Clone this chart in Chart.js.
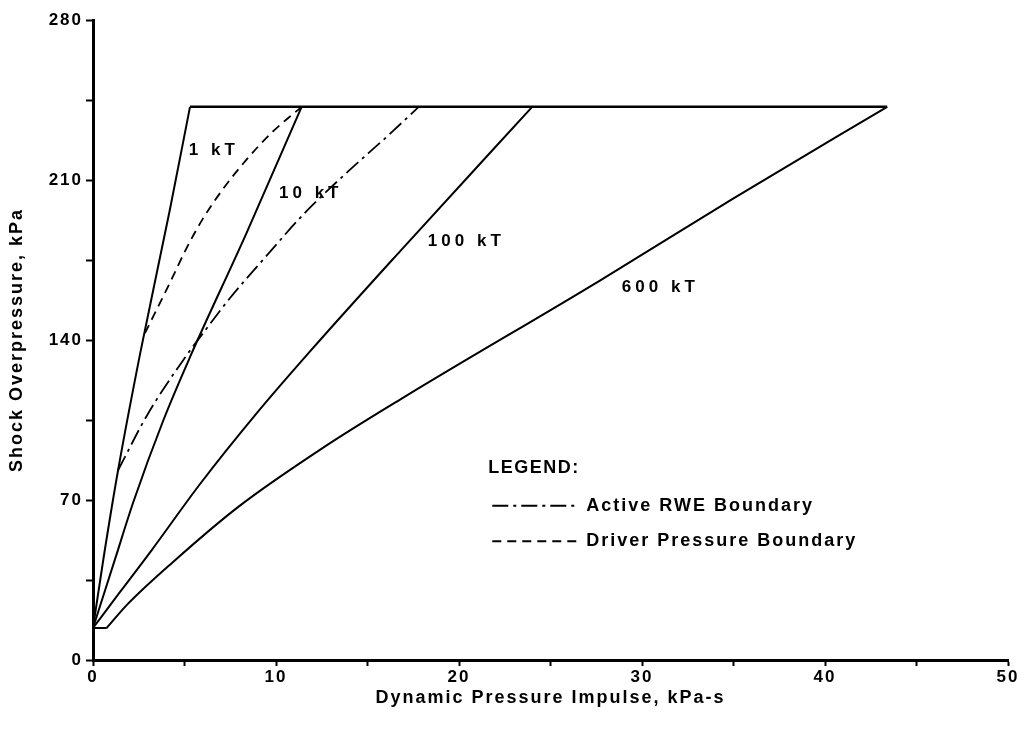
<!DOCTYPE html>
<html>
<head>
<meta charset="utf-8">
<script src="https://cdn.jsdelivr.net/npm/chart.js@4.4.1/dist/chart.umd.min.js"></script>
<style>
    html, body { margin: 0; padding: 0; background: #fff; }
    #wrap { width: 1027px; height: 735px; }
</style>
</head>
<body>
<div id="wrap"><canvas id="cShock"></canvas></div>
<script>
// curve data (x = impulse kPa-s, y = overpressure kPa)
const kt1X = [0, 0.56, 1.37, 2.6, 4.2, 5.3];
const kt1Y = [14, 43.75, 83, 135, 197, 242];

const kt10X = [0, 1.2, 2.2, 3.85, 5.3, 8.4, 11.4];
const kt10Y = [14, 44, 69, 105, 132.5, 187, 242];

const kt100X = [0, 1.5, 3.2, 5.85, 8.95, 11.86, 16.8, 24.0];
const kt100Y = [14, 30, 48, 77, 108, 135, 179, 242];

// 600 kT: short flat foot, then the curve
const floor600X = [0, 0.75];
const floor600Y = [14, 14];
const kt600X = [0.75, 1.84, 4.39, 7.94, 12.6, 17.0, 27.7, 35.0, 43.4];
const kt600Y = [14, 24, 43, 67, 93, 115, 166, 202, 242];

// upper limit line
const capX = [5.3, 43.4];
const capY = [242, 242];

const rweX = [1.37, 2.95, 5.0, 6.3, 7.5, 9.5, 11.5, 13.7, 16.2, 17.8];
const rweY = [83, 107, 132, 146, 158.5, 177, 195, 212, 230, 242];

const driverX = [2.84, 4.2, 5.1, 6.0, 7.1, 8.4, 9.8, 11.4];
const driverY = [143, 165, 180, 193, 206, 219, 231, 242];

// in-plot labels
const yieldLabels = ["1 kT", "10 kT", "100 kT", "600 kT"];
const yieldLabelX = [6.6, 11.9, 20.4, 31.0];
const yieldLabelY = [223, 204, 183, 163];

const legendLabels = ["Active RWE Boundary", "Driver Pressure Boundary"];

const FONT = '"Liberation Sans", Arial, Helvetica, sans-serif';

const pts = (xs, ys) => xs.map((v, i) => ({ x: v, y: ys[i] }));

function lineSet(label, xs, ys, extra) {
    return Object.assign({
        label,
        data: pts(xs, ys),
        borderColor: "#000",
        borderWidth: 2,
        pointRadius: 0,
        fill: false,
        cubicInterpolationMode: "monotone"
    }, extra || {});
}

const straight = { cubicInterpolationMode: "default", tension: 0 };

/* wide typewriter-like spacing for every text on the canvas */
const spacing = {
    id: "spacing",
    beforeDraw(chart) {
        chart.ctx.letterSpacing = "2px";
    }
};

/* labels + legend drawn on top */
const annotate = {
    id: "annotate",
    afterDatasetsDraw(chart) {
        const { ctx, scales: { x, y } } = chart;
        ctx.save();
        ctx.fillStyle = "#000";
        ctx.strokeStyle = "#000";
        ctx.textBaseline = "middle";

        ctx.font = "bold 17px " + FONT;
        ctx.letterSpacing = "4px";
        ctx.textAlign = "center";
        yieldLabels.forEach((t, i) => {
            ctx.fillText(t, x.getPixelForValue(yieldLabelX[i]), y.getPixelForValue(yieldLabelY[i]));
        });

        // legend box
        ctx.textAlign = "left";
        ctx.letterSpacing = "1.5px";
        ctx.font = "bold 18px " + FONT;
        const lx = x.getPixelForValue(21.6);
        ctx.fillText("LEGEND:", lx, y.getPixelForValue(84));

        const rowY = [67.5, 52];
        const dashes = [[16, 5, 3, 5], [9, 6]];
        ctx.letterSpacing = "2px";
        legendLabels.forEach((t, i) => {
            const py = y.getPixelForValue(rowY[i]);
            ctx.beginPath();
            ctx.lineWidth = 2;
            ctx.setLineDash(dashes[i]);
            ctx.moveTo(lx + 4, py);
            ctx.lineTo(lx + 88, py);
            ctx.stroke();
            ctx.setLineDash([]);
            ctx.fillText(t, lx + 98, py);
        });
        ctx.restore();
    }
};

new Chart(document.getElementById("cShock"), {
    type: "line",
    data: {
        datasets: [
            lineSet("1 kT", kt1X, kt1Y),
            lineSet("10 kT", kt10X, kt10Y),
            lineSet("100 kT", kt100X, kt100Y),
            lineSet("600 kT foot", floor600X, floor600Y, straight),
            lineSet("600 kT", kt600X, kt600Y),
            lineSet("cap", capX, capY, Object.assign({ borderWidth: 2.5 }, straight)),
            lineSet("Active RWE Boundary", rweX, rweY, { borderDash: [16, 5, 3, 5], borderWidth: 1.8 }),
            lineSet("Driver Pressure Boundary", driverX, driverY, { borderDash: [9, 6], borderWidth: 1.8 })
        ]
    },
    options: {
        responsive: true,
        maintainAspectRatio: false,
        animation: false,
        layout: { padding: { top: 20, right: 19, bottom: 0, left: 0 } },
        plugins: {
            legend: { display: false },
            tooltip: { enabled: false }
        },
        scales: {
            x: {
                type: "linear",
                min: 0,
                max: 50,
                afterFit: s => { s.height = 75; },
                border: { display: true, color: "#000", width: 3 },
                grid: {
                    drawOnChartArea: false,
                    drawTicks: true,
                    tickLength: 6,
                    tickWidth: 2,
                    tickColor: "#000"
                },
                ticks: {
                    stepSize: 5,
                    autoSkip: false,
                    maxRotation: 0,
                    color: "#000",
                    padding: 1,
                    font: { family: FONT, size: 17, weight: "bold" },
                    callback: v => (v % 10 === 0 ? v : "")
                },
                title: {
                    display: true,
                    text: "Dynamic Pressure Impulse, kPa-s",
                    color: "#000",
                    font: { family: FONT, size: 18, weight: "bold" },
                    padding: { top: 0, bottom: 26 }
                }
            },
            y: {
                type: "linear",
                min: 0,
                max: 280,
                afterFit: s => { s.width = 93; },
                border: { display: true, color: "#000", width: 3 },
                grid: {
                    drawOnChartArea: false,
                    drawTicks: true,
                    tickLength: 7,
                    tickWidth: 2,
                    tickColor: "#000"
                },
                ticks: {
                    stepSize: 35,
                    autoSkip: false,
                    color: "#000",
                    padding: 3,
                    font: { family: FONT, size: 17, weight: "bold" },
                    callback: v => (v % 70 === 0 ? v : "")
                },
                title: {
                    display: true,
                    text: "Shock Overpressure, kPa",
                    color: "#000",
                    font: { family: FONT, size: 18, weight: "bold" },
                    padding: { top: 6, bottom: 0 }
                }
            }
        }
    },
    plugins: [spacing, annotate]
});
</script>
</body>
</html>
